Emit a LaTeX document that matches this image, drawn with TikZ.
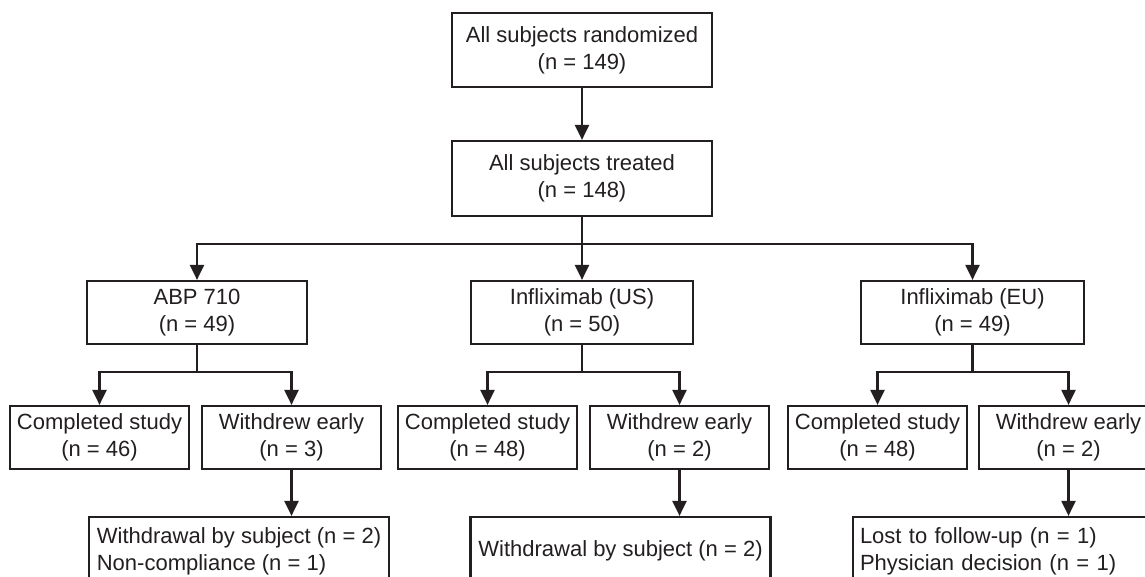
\documentclass[tikz,border=0pt]{standalone}
\usepackage{fontspec}
\setmainfont{Liberation Sans}
\usetikzlibrary{arrows.meta}
\definecolor{ink}{HTML}{231F20}
\begin{document}
\begin{tikzpicture}[x=1pt,y=-1pt,
  box/.style={draw=ink, line width=2.2pt, text=ink, align=center, inner sep=0pt,
    font=\fontsize{22}{27}\selectfont},
  arr/.style={draw=ink, line width=2.2pt, -{Triangle[length=15pt,width=14pt]}},
  ln/.style={draw=ink, line width=2.2pt}]
\useasboundingbox (0,0) rectangle (1145,577);
\fill[white] (0,0) rectangle (1145,577);
% level 1-2
\node[box, minimum width=260pt, minimum height=74pt] (rand) at (582,50) {All subjects randomized\\(n = 149)};
\node[box, minimum width=260pt, minimum height=75pt] (treat) at (582,178.5) {All subjects treated\\(n = 148)};
% level 3
\node[box, minimum width=220pt, minimum height=63pt] (abp) at (197,312.5) {ABP 710\\(n = 49)};
\node[box, minimum width=222pt, minimum height=63pt] (us) at (582,312.5) {Infliximab (US)\\(n = 50)};
\node[box, minimum width=223pt, minimum height=63pt] (eu) at (972.5,312.5) {Infliximab (EU)\\(n = 49)};
% level 4
\tikzset{small/.style={box, minimum width=179pt, minimum height=63pt}}
\node[small] (abpC) at (99.5,437.5) {Completed study\\(n = 46)};
\node[small] (abpW) at (291.5,437.5) {Withdrew early\\(n = 3)};
\node[small] (usC) at (487.5,437.5) {Completed study\\(n = 48)};
\node[small] (usW) at (679.5,437.5) {Withdrew early\\(n = 2)};
\node[small] (euC) at (877.5,437.5) {Completed study\\(n = 48)};
\node[small] (euW) at (1068.5,437.5) {Withdrew early\\(n = 2)};
% level 5
\tikzset{reason/.style={box, minimum height=68pt, minimum width=300pt}}
\node[reason, align=left] (abpB) at (239,551) {Withdrawal by subject (n = 2)\\Non-compliance (n = 1)};
\node[reason, align=center] (usB) at (620.5,551) {Withdrawal by subject (n = 2)};
\node[reason, align=left, text width=286pt, inner xsep=7pt] (euB) at (1003,551) {Lost to follow-up (n = 1)\\Physician decision (n = 1)};
% connectors
\draw[arr] (rand.south) -- (treat.north);
\draw[arr] (treat.south) -- (us.north);
\coordinate (bus) at (582,244);
\draw[arr] (bus) -| (abp.north);
\draw[arr] (bus) -| (eu.north);
\coordinate (abpS) at (197,372);
\coordinate (usS) at (582,372);
\coordinate (euS) at (972.5,372);
\draw[ln] (abp.south) -- (abpS);
\draw[ln] (us.south) -- (usS);
\draw[ln] (eu.south) -- (euS);
\draw[arr] (abpS) -| (abpC.north);
\draw[arr] (abpS) -| (abpW.north);
\draw[arr] (usS) -| (usC.north);
\draw[arr] (usS) -| (usW.north);
\draw[arr] (euS) -| (euC.north);
\draw[arr] (euS) -| (euW.north);
\draw[arr] (abpW.south) -- (abpW.south |- abpB.north);
\draw[arr] (usW.south) -- (usW.south |- usB.north);
\draw[arr] (euW.south) -- (euW.south |- euB.north);
\end{tikzpicture}
\end{document}
